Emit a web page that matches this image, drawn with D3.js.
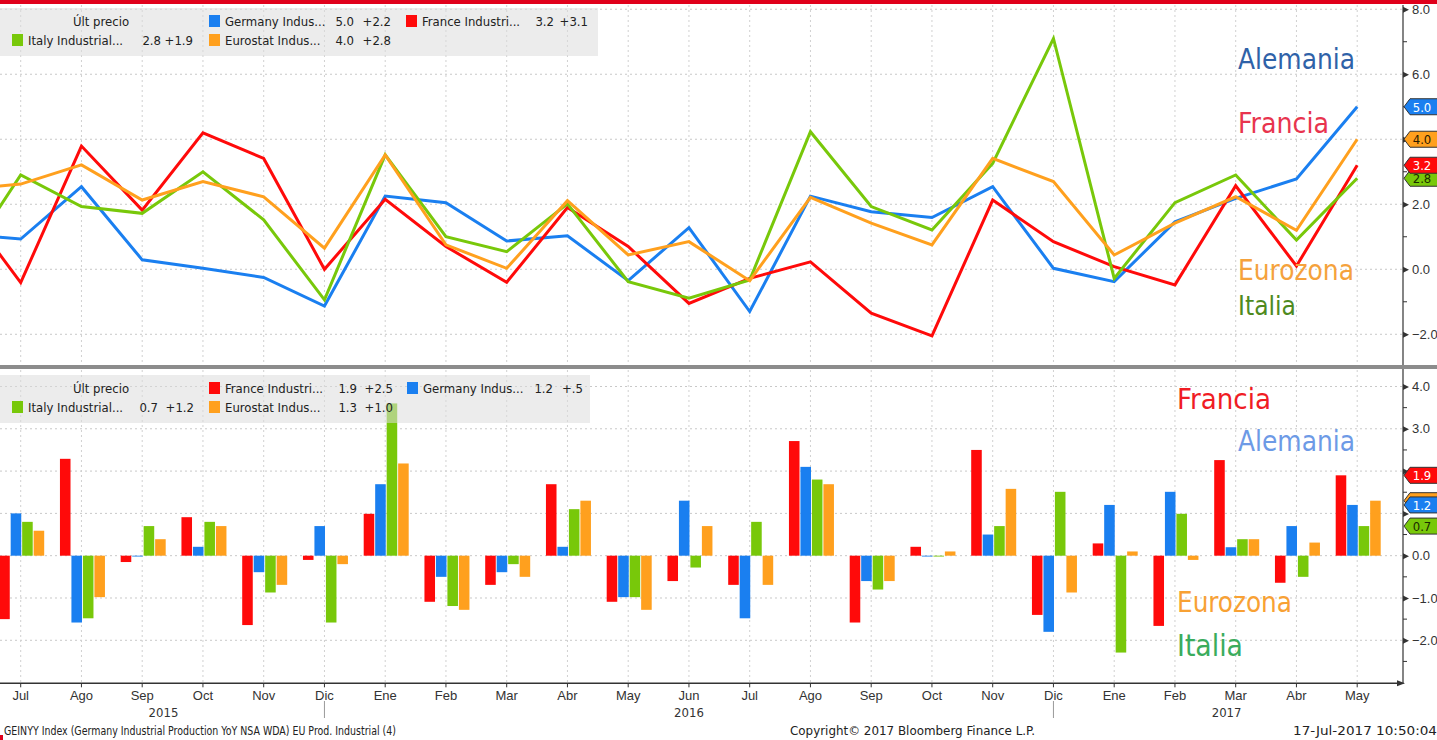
<!DOCTYPE html>
<html><head><meta charset="utf-8">
<script src="https://cdn.jsdelivr.net/npm/d3@7"></script>
<style>
html,body{margin:0;padding:0;background:#fff;overflow:hidden;}
svg{display:block;font-family:"DejaVu Sans Condensed","DejaVu Sans",sans-serif;font-stretch:condensed;}
</style></head><body>
<svg id="chart" width="1437" height="740"></svg>
<script>
// ---------- DATA ----------
const periods = ["2015-06","2015-07","2015-08","2015-09","2015-10","2015-11","2015-12",
  "2016-01","2016-02","2016-03","2016-04","2016-05","2016-06","2016-07","2016-08","2016-09","2016-10","2016-11","2016-12",
  "2017-01","2017-02","2017-03","2017-04","2017-05"];
const monthLabels = ["Jun","Jul","Ago","Sep","Oct","Nov","Dic","Ene","Feb","Mar","Abr","May","Jun","Jul","Ago","Sep","Oct","Nov","Dic","Ene","Feb","Mar","Abr","May"];
const yearLabels = ["2015","2016","2017"];
const seriesNames = ["Germany Indus...","France Industri...","Italy Industrial...","Eurostat Indus..."];

// Year-over-year (top panel, lines)
const germanyYoY  = [1.1, 0.93, 2.54, 0.29, 0.03, -0.25, -1.13, 2.25, 2.05, 0.87, 1.03, -0.35, 1.28, -1.30, 2.25, 1.77, 1.59, 2.54, 0.03, -0.38, 1.46, 2.18, 2.78, 5.0];
const franceYoY   = [2.1, -0.41, 3.79, 1.82, 4.2, 3.41, 0.0, 2.15, 0.7, -0.4, 1.9, 0.7, -1.05, -0.28, 0.23, -1.35, -2.05, 2.13, 0.85, 0.08, -0.48, 2.57, 0.1, 3.2];
const italyYoY    = [0.05, 2.9, 1.93, 1.72, 3.0, 1.52, -0.94, 3.52, 1.0, 0.54, 2.01, -0.38, -0.89, -0.33, 4.23, 1.93, 1.21, 3.26, 7.1, -0.28, 2.05, 2.9, 0.9, 2.8];
const eurostatYoY = [2.44, 2.62, 3.21, 2.13, 2.7, 2.23, 0.65, 3.52, 0.75, 0.03, 2.11, 0.44, 0.85, -0.35, 2.21, 1.42, 0.75, 3.41, 2.7, 0.44, 1.42, 2.23, 1.2, 4.0];

// Month-over-month (bottom panel, bars)
const franceMoM   = [null, -1.5, 2.29, -0.15, 0.91, -1.64, -0.1, 0.99, -1.09, -0.69, 1.69, -1.09, -0.6, -0.69, 2.71, -1.58, 0.21, 2.5, -1.4, 0.29, -1.66, 2.26, -0.64, 1.9];
const germanyMoM  = [null, 1.0, -1.58, -0.02, 0.21, -0.39, 0.7, 1.69, -0.5, -0.39, 0.21, -0.98, 1.3, -1.48, 2.1, -0.6, -0.02, 0.5, -1.8, 1.2, 1.51, 0.2, 0.7, 1.2];
const italyMoM    = [null, 0.8, -1.48, 0.7, 0.8, -0.87, -1.58, 3.6, -1.19, -0.2, 1.1, -0.98, -0.28, 0.8, 1.8, -0.8, -0.02, 0.7, 1.51, -2.29, 0.99, 0.39, -0.5, 0.7];
const eurostatMoM = [null, 0.59, -0.98, 0.39, 0.7, -0.69, -0.2, 2.18, -1.28, -0.5, 1.3, -1.28, 0.7, -0.69, 1.69, -0.6, 0.1, 1.58, -0.87, 0.1, -0.1, 0.39, 0.31, 1.3];

const topTicks = [-2, 0, 2, 4, 6, 8];
const topMinor = [-1, 1, 3, 5, 7];
const botTicks = [-2, -1, 0, 1, 2, 3, 4];
const botMinor = [-2.5, -1.5, -0.5, 0.5, 1.5, 2.5, 3.5];

// ---------- STYLE / LAYOUT ----------
const C = {red:"#ff0a0a", blue:"#1a7ff0", green:"#78c80a", orange:"#ffa01e"};
const svg = d3.select("#chart");
const W = 1437, axisX = 1403;
const step = 60.75, firstCenter = -40.05;
const x = d3.scaleBand().domain(periods).range([firstCenter - step/2, firstCenter - step/2 + periods.length*step]);
const xc = p => x(p) + x.bandwidth()/2;
const yTop = d3.scaleLinear().domain([-2.945, 8.13]).range([365, 5]);
const yBot = d3.scaleLinear().domain([-3.017, 4.39]).range([683.3, 370]);
const fmt = d3.format(".1f");
const chg = v => { const s = v >= 0 ? "+" : "-"; let t = fmt(Math.abs(v)); if (t.startsWith("0.")) t = t.slice(1); return s + t; };
const L = a => a[a.length-1], P = a => a[a.length-2];

// red top bar
svg.append("rect").attr("x",0).attr("y",0).attr("width",W).attr("height",4).attr("fill","#e0001b");
svg.append("rect").attr("x",0).attr("y",735).attr("width",3).attr("height",5).attr("fill","#e0001b");

const defs = svg.append("defs");
defs.append("clipPath").attr("id","clipTop").append("rect").attr("x",0).attr("y",5).attr("width",axisX).attr("height",360);
defs.append("clipPath").attr("id","clipBot").append("rect").attr("x",0).attr("y",370).attr("width",axisX).attr("height",313.3);

function grid(g, y, ticks, y0, y1) {
  g.selectAll("line.h").data(ticks).join("line").attr("class","h")
    .attr("x1",0).attr("x2",axisX).attr("y1",d=>y(d)).attr("y2",d=>y(d))
    .attr("stroke","#c8c8c8").attr("stroke-width",1).attr("stroke-dasharray","2,3");
  g.selectAll("line.v").data(periods).join("line").attr("class","v")
    .attr("x1",d=>xc(d)).attr("x2",d=>xc(d)).attr("y1",y0).attr("y2",y1)
    .attr("stroke","#d0d0d0").attr("stroke-width",1).attr("stroke-dasharray","2,3");
}
grid(svg.append("g").attr("clip-path","url(#clipTop)"), yTop, topTicks, 5, 365);
grid(svg.append("g").attr("clip-path","url(#clipBot)"), yBot, botTicks, 370, 683);

// ---------- TOP: lines ----------
const lineSeries = [
  {name:seriesNames[0], values:germanyYoY, color:C.blue},
  {name:seriesNames[1], values:franceYoY, color:C.red},
  {name:seriesNames[2], values:italyYoY, color:C.green},
  {name:seriesNames[3], values:eurostatYoY, color:C.orange}
];
const line = d3.line().x((d,i)=>xc(periods[i])).y(d=>yTop(d));
const gl = svg.append("g").attr("clip-path","url(#clipTop)");
lineSeries.forEach(s => {
  gl.append("path").datum(s.values).attr("d", line).attr("fill","none")
    .attr("stroke", s.color).attr("stroke-width", 3).attr("stroke-linejoin","miter");
});

// ---------- BOTTOM: bars ----------
const barSeries = [
  {name:seriesNames[1], values:franceMoM, color:C.red},
  {name:seriesNames[0], values:germanyMoM, color:C.blue},
  {name:seriesNames[2], values:italyMoM, color:C.green},
  {name:seriesNames[3], values:eurostatMoM, color:C.orange}
];
const inner = d3.scaleBand().domain(barSeries.map(s=>s.name)).range([-21.5, 23.5]).paddingInner(0.08);
const gb = svg.append("g").attr("clip-path","url(#clipBot)");
barSeries.forEach(s => {
  gb.selectAll(null).data(s.values.map((v,i)=>({v, p:periods[i]})).filter(d=>d.v!==null)).join("rect")
    .attr("x", d => xc(d.p) + inner(s.name))
    .attr("width", inner.bandwidth())
    .attr("y", d => yBot(Math.max(0, d.v)))
    .attr("height", d => Math.abs(yBot(d.v) - yBot(0)))
    .attr("fill", s.color);
});

// separator between panels
svg.append("rect").attr("x",0).attr("y",365).attr("width",W).attr("height",4).attr("fill","#8c8c8c");

// ---------- legends ----------
function legend(y0, items) {
  const g = svg.append("g");
  g.append("rect").attr("x",0).attr("y",y0).attr("width",items.boxW).attr("height",48).attr("fill","#dcdcdc").attr("opacity",0.55);
  g.append("text").attr("x",101).attr("y",y0+18).attr("text-anchor","middle").attr("font-size",13).attr("fill","#222").text("Últ precio");
  items.list.forEach(it => {
    const ty = y0 + (it.row===0 ? 18 : 37);
    g.append("rect").attr("x",it.sx).attr("y",ty-11).attr("width",11).attr("height",12).attr("fill",it.color);
    g.append("text").attr("x",it.sx+16).attr("y",ty).attr("font-size",13).attr("fill","#222").text(it.name);
    g.append("text").attr("x",it.ve).attr("y",ty).attr("text-anchor","end").attr("font-size",13).attr("fill","#222").text(fmt(it.last));
    g.append("text").attr("x",it.ce).attr("y",ty).attr("text-anchor","end").attr("font-size",13).attr("fill","#222").text(chg(it.last-it.prev));
  });
}
legend(8, {boxW:598, list:[
  {row:0, sx:209, ve:354, ce:391, name:seriesNames[0], color:C.blue, last:L(germanyYoY), prev:P(germanyYoY)},
  {row:0, sx:406, ve:554, ce:588, name:seriesNames[1], color:C.red, last:L(franceYoY), prev:P(franceYoY)},
  {row:1, sx:12, ve:161, ce:193, name:seriesNames[2], color:C.green, last:L(italyYoY), prev:P(italyYoY)},
  {row:1, sx:209, ve:354, ce:391, name:seriesNames[3], color:C.orange, last:L(eurostatYoY), prev:P(eurostatYoY)}
]});
legend(375, {boxW:590, list:[
  {row:0, sx:209, ve:357, ce:393, name:seriesNames[1], color:C.red, last:L(franceMoM), prev:P(franceMoM)},
  {row:0, sx:407, ve:553, ce:583, name:seriesNames[0], color:C.blue, last:L(germanyMoM), prev:P(germanyMoM)},
  {row:1, sx:12, ve:158, ce:194, name:seriesNames[2], color:C.green, last:L(italyMoM), prev:P(italyMoM)},
  {row:1, sx:209, ve:357, ce:393, name:seriesNames[3], color:C.orange, last:L(eurostatMoM), prev:P(eurostatMoM)}
]});

// ---------- right axes ----------
const topTags = [
  {v:L(italyYoY), color:C.green, tc:"#1a2a00"},
  {v:L(eurostatYoY), color:C.orange, tc:"#2a1a00"},
  {v:L(germanyYoY), color:C.blue, tc:"#fff"},
  {v:L(franceYoY), color:C.red, tc:"#fff"}
];
const botTags = [
  {v:L(italyMoM), color:C.green, tc:"#1a2a00"},
  {v:L(eurostatMoM), color:C.orange, tc:"#2a1a00"},
  {v:L(germanyMoM), color:C.blue, tc:"#fff"},
  {v:L(franceMoM), color:C.red, tc:"#fff"}
];
function rightAxis(y, ticks, minor, y0, y1, tagList) {
  const g = svg.append("g");
  g.append("line").attr("x1",axisX).attr("x2",axisX).attr("y1",y0).attr("y2",y1).attr("stroke","#333").attr("stroke-width",1.2);
  const ax = d3.axisRight(y).tickValues(ticks).tickSize(0).tickPadding(9).tickFormat(fmt);
  const ga = g.append("g").attr("transform",`translate(${axisX},0)`).call(ax);
  ga.select(".domain").remove();
  ga.selectAll("text").attr("font-size",13).attr("fill","#333").attr("font-family",null)
    .filter(d => tagList.some(t => Math.abs(y(t.v) - y(d)) < 17)).remove();
  ga.selectAll(".tick").append("path").attr("d","M0,-3L6,0L0,3Z").attr("fill","#333");
  g.selectAll(null).data(minor).join("line").attr("x1",axisX).attr("x2",axisX+4)
    .attr("y1",d=>y(d)).attr("y2",d=>y(d)).attr("stroke","#333");
}
rightAxis(yTop, topTicks, topMinor, 5, 365, topTags);
rightAxis(yBot, botTicks, botMinor, 369, 684, botTags);

function tags(y, list) {
  list.forEach(t => {
    const cy = y(t.v);
    svg.append("path").attr("d",`M${axisX+1},${cy} L${axisX+7},${cy-8} L${W+2},${cy-8} L${W+2},${cy+8} L${axisX+7},${cy+8} Z`)
      .attr("fill",t.color).attr("stroke","#333").attr("stroke-width",1);
  });
  // labels only for tags not mostly hidden by a later-drawn tag
  list.forEach((t,i) => {
    const cy = y(t.v);
    const hidden = list.slice(i+1).some(o => Math.abs(y(o.v) - cy) < 9);
    if (hidden) return;
    svg.append("text").attr("x",axisX+19).attr("y",cy+5).attr("text-anchor","middle").attr("font-size",13)
      .attr("fill",t.tc).text(fmt(t.v));
  });
}
tags(yTop, topTags);
tags(yBot, botTags);

// ---------- bottom x axis ----------
const gx = svg.append("g").attr("transform","translate(0,683.3)");
gx.append("line").attr("x1",0).attr("x2",axisX-2).attr("y1",0).attr("y2",0).attr("stroke","#333").attr("stroke-width",1.5);
gx.append("path").attr("d",`M${axisX+2},0 L${axisX-6},-3 L${axisX-6},3 Z`).attr("fill","#333");
const xAxis = d3.axisBottom(x).tickValues(periods.slice(1)).tickSize(4).tickPadding(3)
  .tickFormat(p => monthLabels[periods.indexOf(p)]).offset(0);
const gxa = gx.append("g").call(xAxis);
gxa.select(".domain").remove();
gxa.selectAll("text").attr("font-size",13).attr("fill","#333").attr("font-family",null);
gxa.selectAll("line").attr("stroke","#333");
const yearAt = [2.35, 11.0, 19.85];
yearLabels.forEach((yl,i) => {
  svg.append("text").attr("x", xc(periods[0]) + (yearAt[i]+1)*step).attr("y",717).attr("text-anchor","middle")
    .attr("font-size",13).attr("fill","#333").text(yl);
});
["2015-12","2016-12"].forEach(p => {
  svg.append("line").attr("x1",xc(p)).attr("x2",xc(p)).attr("y1",701).attr("y2",718).attr("stroke","#999");
});

// ---------- footer ----------
function squeeze(sel, w) { sel.attr("textLength", w).attr("lengthAdjust","spacingAndGlyphs"); return sel; }
squeeze(svg.append("text").attr("x",4).attr("y",735).attr("font-size",12.5).attr("fill","#222")
  .text("GEINYY Index (Germany Industrial Production YoY NSA WDA) EU Prod. Industrial (4)"), 392);
squeeze(svg.append("text").attr("x",790).attr("y",735).attr("font-size",12.5).attr("fill","#222")
  .text("Copyright© 2017 Bloomberg Finance L.P."), 245);
squeeze(svg.append("text").attr("x",1293).attr("y",735).attr("font-size",12.5).attr("fill","#222")
  .text("17-Jul-2017 10:50:04"), 144);

// ---------- annotations ----------
function fit(sel, w) { const cur = sel.node().getComputedTextLength(); const fs = parseFloat(sel.attr("font-size")); sel.attr("font-size", fs*w/cur); return sel; }
const notes = [
  {t:"Alemania", x:1238, y:69, w:117, c:"#2f62a8"},
  {t:"Francia", x:1238, y:133, w:91, c:"#e8344e"},
  {t:"Eurozona", x:1238, y:280, w:116, c:"#f5a23c"},
  {t:"Italia", x:1238, y:315, w:58, c:"#4f8a1e"},
  {t:"Francia", x:1177, y:409, w:94, c:"#f01c24"},
  {t:"Alemania", x:1238, y:451, w:117, c:"#6d9ae6"},
  {t:"Eurozona", x:1177, y:612, w:115, c:"#f8a134"},
  {t:"Italia", x:1177, y:656, w:66, c:"#3aac5c"}
];
notes.forEach(n => {
  fit(svg.append("text").attr("x",n.x).attr("y",n.y).attr("font-size",30).attr("fill",n.c).text(n.t), n.w);
});
</script>
</body></html>
